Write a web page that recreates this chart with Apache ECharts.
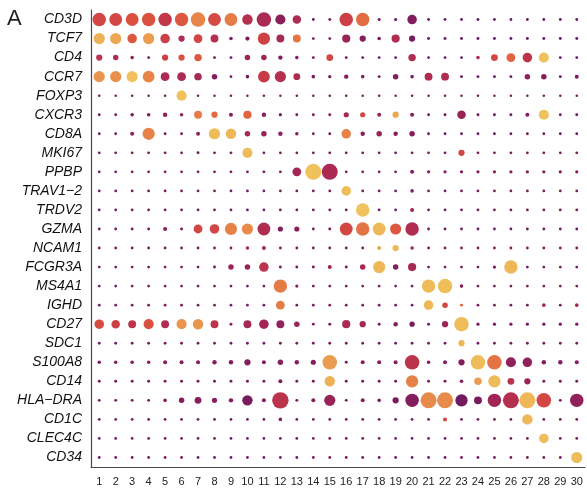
<!DOCTYPE html>
<html>
<head>
<meta charset="utf-8">
<script src="https://cdn.jsdelivr.net/npm/echarts@6/dist/echarts.min.js"></script>
<style>
  html, body { margin: 0; padding: 0; background: #fff; }
  #main { width: 587px; height: 495px; }
</style>
</head>
<body>
<div id="main"></div>
<script>
// marker genes, top to bottom
const genes = ['CD3D', 'TCF7', 'CD4', 'CCR7', 'FOXP3', 'CXCR3', 'CD8A', 'MKI67', 'PPBP', 'TRAV1\u22122',
  'TRDV2', 'GZMA', 'NCAM1', 'FCGR3A', 'MS4A1', 'IGHD', 'CD27', 'SDC1', 'S100A8', 'CD14',
  'HLA\u2212DRA', 'CD1C', 'CLEC4C', 'CD34']

const clusters = ['1', '2', '3', '4', '5', '6', '7', '8', '9', '10', '11', '12', '13', '14', '15',
  '16', '17', '18', '19', '20', '21', '22', '23', '24', '25', '26', '27', '28', '29', '30']

// percent of cells expressing (dot size)
const pct = [
  [73, 69, 69, 73, 73, 73, 80, 69, 69, 53, 80, 51, 40, 2, 2, 73, 73, 4, 4, 47, 2, 2, 2, 2, 2, 2, 2, 2, 2, 2],
  [58, 58, 47, 58, 47, 25, 42, 36, 7, 11, 65, 36, 36, 2, 2, 38, 25, 7, 38, 25, 3, 3, 3, 3, 3, 3, 3, 3, 3, 3],
  [25, 20, 7, 2, 25, 25, 33, 3, 3, 20, 20, 13, 7, 3, 29, 3, 2, 2, 2, 33, 2, 2, 2, 7, 29, 42, 47, 51, 2, 2],
  [58, 58, 58, 62, 42, 42, 33, 20, 2, 7, 62, 58, 29, 7, 5, 13, 7, 3, 20, 7, 36, 36, 3, 3, 3, 3, 20, 20, 3, 10],
  [0, 0, 0, 0, 0, 51, 0, 0, 0, 0, 0, 0, 0, 0, 0, 0, 0, 0, 0, 0, 0, 0, 0, 0, 0, 0, 0, 0, 0, 0],
  [2, 2, 7, 7, 13, 7, 36, 25, 10, 38, 13, 5, 3, 3, 3, 18, 18, 10, 25, 10, 2, 3, 40, 3, 3, 3, 10, 51, 2, 3],
  [2, 2, 10, 65, 2, 2, 10, 58, 53, 20, 20, 13, 7, 2, 2, 47, 13, 20, 13, 20, 2, 2, 2, 2, 2, 2, 2, 2, 2, 2],
  [2, 2, 2, 2, 2, 2, 3, 2, 2, 51, 2, 2, 2, 2, 2, 2, 2, 2, 2, 2, 2, 2, 25, 2, 2, 2, 2, 2, 2, 2],
  [2, 2, 2, 2, 2, 2, 2, 2, 2, 2, 3, 2, 42, 90, 90, 2, 2, 2, 2, 10, 5, 5, 5, 5, 5, 5, 5, 5, 5, 5],
  [2, 2, 2, 2, 2, 2, 2, 2, 2, 2, 2, 2, 2, 2, 2, 47, 2, 2, 2, 7, 2, 2, 2, 2, 2, 2, 2, 2, 2, 2],
  [2, 2, 2, 2, 2, 2, 2, 2, 2, 2, 2, 2, 2, 2, 2, 2, 73, 2, 2, 10, 2, 2, 2, 2, 2, 2, 2, 2, 2, 2],
  [2, 2, 2, 2, 10, 3, 42, 47, 65, 58, 69, 18, 18, 2, 3, 69, 73, 69, 58, 73, 2, 2, 2, 2, 2, 2, 2, 2, 2, 2],
  [2, 2, 2, 2, 2, 2, 2, 2, 2, 7, 10, 2, 2, 2, 2, 2, 2, 10, 25, 7, 2, 2, 2, 2, 2, 2, 2, 2, 2, 2],
  [2, 2, 2, 2, 2, 2, 2, 3, 20, 20, 47, 3, 3, 3, 10, 3, 20, 65, 20, 38, 2, 2, 2, 2, 5, 73, 2, 2, 2, 2],
  [2, 2, 2, 2, 2, 2, 2, 2, 2, 2, 2, 73, 5, 3, 2, 2, 2, 2, 2, 3, 73, 80, 7, 2, 2, 2, 2, 2, 2, 2],
  [2, 2, 2, 2, 2, 2, 2, 2, 2, 2, 2, 42, 2, 2, 2, 2, 2, 2, 2, 2, 47, 20, 3, 2, 2, 2, 2, 7, 2, 7],
  [47, 40, 36, 51, 36, 51, 53, 36, 3, 36, 47, 36, 20, 2, 3, 38, 25, 3, 13, 18, 3, 25, 80, 5, 5, 5, 5, 5, 5, 5],
  [2, 2, 2, 2, 2, 2, 2, 2, 2, 2, 2, 2, 2, 2, 2, 2, 2, 2, 2, 2, 2, 2, 25, 2, 2, 2, 2, 2, 2, 2],
  [7, 7, 7, 7, 10, 10, 10, 13, 13, 25, 10, 20, 13, 18, 80, 3, 10, 10, 10, 80, 7, 10, 25, 80, 80, 51, 47, 13, 13, 10],
  [3, 3, 3, 3, 3, 3, 3, 3, 3, 3, 3, 10, 3, 3, 53, 3, 3, 3, 3, 65, 3, 3, 7, 33, 65, 29, 25, 3, 3, 3],
  [3, 3, 3, 3, 7, 20, 29, 18, 13, 53, 10, 93, 3, 10, 58, 3, 10, 7, 25, 73, 90, 90, 65, 36, 73, 90, 90, 80, 3, 73],
  [2, 2, 2, 2, 2, 2, 2, 2, 2, 2, 2, 7, 2, 2, 2, 2, 2, 2, 2, 2, 2, 10, 2, 2, 2, 2, 53, 2, 2, 2],
  [2, 2, 2, 2, 2, 2, 2, 2, 2, 2, 2, 2, 2, 2, 2, 2, 2, 2, 2, 2, 2, 2, 2, 2, 2, 2, 2, 47, 2, 2],
  [2, 2, 2, 2, 2, 2, 2, 2, 2, 2, 2, 2, 2, 2, 2, 2, 2, 2, 2, 2, 2, 2, 2, 2, 2, 2, 2, 2, 2, 58]
]

// scaled average expression (dot colour), 0..1
const avg = [
  [.55, .55, .6, .6, .48, .62, .75, .57, .72, .42, .38, .22, .38, .12, .15, .52, .68, .12, .12, .18, .1, .1, .1, .1, .1, .1, .1, .1, .1, .1],
  [.88, .85, .62, .82, .52, .4, .55, .42, .2, .15, .53, .35, .7, .15, .15, .28, .2, .15, .4, .15, .12, .12, .12, .12, .12, .12, .12, .12, .12, .12],
  [.45, .4, .25, .1, .52, .6, .62, .15, .15, .3, .3, .2, .2, .15, .55, .15, .1, .1, .1, .4, .1, .1, .1, .4, .55, .65, .45, .95, .1, .1],
  [.8, .78, .95, .75, .38, .38, .35, .2, .15, .15, .5, .42, .4, .15, .15, .2, .15, .15, .2, .15, .4, .4, .12, .12, .12, .12, .25, .2, .12, .15],
  [.12, .12, .12, .12, .12, .95, .12, .12, .12, .12, .12, .12, .12, .12, .12, .12, .12, .12, .12, .12, .12, .12, .12, .12, .12, .12, .12, .12, .12, .12],
  [.15, .15, .15, .15, .25, .25, .72, .68, .2, .65, .2, .15, .15, .15, .15, .35, .55, .3, .85, .2, .12, .12, .28, .12, .12, .12, .2, .95, .12, .12],
  [.15, .15, .25, .74, .15, .15, .25, .92, .9, .35, .28, .25, .2, .15, .15, .74, .2, .3, .2, .2, .12, .12, .12, .12, .12, .12, .12, .12, .12, .12],
  [.15, .15, .15, .15, .15, .15, .15, .15, .15, .92, .15, .15, .15, .15, .15, .15, .15, .15, .15, .15, .15, .15, .55, .15, .15, .15, .15, .15, .15, .15],
  [.15, .15, .15, .15, .15, .15, .15, .15, .15, .15, .15, .15, .33, .95, .38, .15, .15, .15, .15, .2, .2, .2, .2, .2, .2, .2, .2, .2, .2, .2],
  [.15, .15, .15, .15, .15, .15, .15, .15, .15, .15, .15, .15, .15, .15, .15, .93, .15, .15, .15, .2, .15, .15, .15, .15, .15, .15, .15, .15, .15, .15],
  [.15, .15, .15, .15, .15, .15, .15, .15, .15, .15, .15, .15, .15, .15, .15, .15, .95, .15, .15, .3, .15, .15, .15, .15, .15, .15, .15, .15, .15, .15],
  [.15, .15, .15, .15, .2, .15, .55, .55, .74, .77, .4, .2, .22, .15, .15, .55, .7, .9, .62, .4, .12, .12, .12, .12, .12, .12, .12, .12, .12, .12],
  [.15, .15, .15, .15, .15, .15, .15, .15, .15, .35, .35, .15, .15, .15, .15, .15, .15, .85, .9, .3, .15, .15, .15, .15, .15, .15, .15, .15, .15, .15],
  [.15, .15, .15, .15, .15, .15, .15, .15, .3, .3, .45, .15, .15, .15, .3, .15, .35, .9, .2, .35, .12, .12, .12, .12, .15, .9, .12, .12, .12, .12],
  [.15, .15, .15, .15, .15, .15, .15, .15, .15, .15, .15, .72, .2, .15, .15, .15, .15, .15, .15, .15, .92, .93, .2, .15, .15, .15, .15, .15, .15, .15],
  [.15, .15, .15, .15, .15, .15, .15, .15, .15, .15, .15, .72, .15, .15, .15, .15, .15, .15, .15, .15, .9, .55, .65, .15, .15, .15, .15, .3, .15, .3],
  [.58, .52, .45, .6, .4, .8, .8, .45, .2, .35, .33, .25, .3, .15, .15, .38, .35, .15, .2, .15, .12, .3, .92, .15, .15, .15, .15, .15, .15, .15],
  [.15, .15, .15, .15, .15, .15, .15, .15, .15, .15, .15, .15, .15, .15, .15, .15, .15, .15, .15, .15, .15, .15, .9, .15, .15, .15, .15, .15, .15, .15],
  [.2, .2, .18, .2, .2, .2, .2, .2, .2, .2, .2, .22, .2, .2, .82, .15, .2, .2, .2, .45, .18, .2, .2, .92, .7, .25, .25, .2, .2, .2],
  [.15, .15, .15, .15, .15, .15, .15, .15, .15, .15, .15, .2, .15, .15, .88, .15, .15, .15, .15, .74, .15, .15, .2, .82, .92, .45, .3, .15, .15, .15],
  [.15, .15, .15, .15, .18, .2, .2, .2, .2, .15, .2, .45, .15, .2, .28, .15, .2, .15, .15, .2, .77, .77, .12, .15, .32, .42, .9, .55, .15, .25],
  [.15, .15, .15, .15, .15, .15, .15, .15, .15, .15, .15, .2, .15, .15, .15, .15, .15, .15, .15, .15, .15, .55, .15, .15, .15, .15, .9, .15, .15, .15],
  [.15, .15, .15, .15, .15, .15, .15, .15, .15, .15, .15, .15, .15, .15, .15, .15, .15, .15, .15, .15, .15, .15, .15, .15, .15, .15, .15, .92, .15, .15],
  [.15, .15, .15, .15, .15, .15, .15, .15, .15, .15, .15, .15, .15, .15, .15, .15, .15, .15, .15, .15, .15, .15, .15, .15, .15, .15, .15, .15, .15, .92]
]

const chart = echarts.init(document.getElementById('main'), null, { renderer: 'canvas' })

const dots = []
genes.forEach(function (g, i) {
  clusters.forEach(function (c, j) {
    dots.push([j, i, pct[i][j], avg[i][j]])
  })
})

const axisGrey = '#4a4a4a'
const font = '"Liberation Sans", Arial, sans-serif'

const option = {
  animation: false,
  grid: { left: 91, right: 2, top: 10, bottom: 28 },
  xAxis: {
    type: 'category',
    data: clusters,
    boundaryGap: true,
    axisLine: { lineStyle: { color: axisGrey, width: 1.2 } },
    axisTick: { alignWithLabel: true, length: 4, lineStyle: { color: axisGrey } },
    axisLabel: { interval: 0, color: '#222', fontSize: 11, fontFamily: font, margin: 9 },
    splitLine: { show: false }
  },
  yAxis: {
    type: 'category',
    data: genes,
    inverse: true,
    axisLine: { lineStyle: { color: axisGrey, width: 1.2 } },
    axisTick: { alignWithLabel: true, length: 4, lineStyle: { color: axisGrey } },
    axisLabel: { interval: 0, color: '#111', fontSize: 14, fontStyle: 'italic', fontFamily: font, margin: 9 },
    splitLine: { show: false }
  },
  visualMap: [
    {
      type: 'continuous', show: false, dimension: 2, min: 0, max: 100,
      inRange: { symbolSize: [2.5, 17.5] }
    },
    {
      type: 'continuous', show: false, dimension: 3, min: 0, max: 1,
      inRange: {
        color: ['#5a1660', '#6b1a5f', '#851e5d', '#9c2456', '#b02d51', '#c83a47',
          '#db5140', '#e47444', '#ea954d', '#eeb858', '#f2cc62']
      }
    }
  ],
  graphic: [{
    type: 'text', left: 7, top: 8,
    style: { text: 'A', fontSize: 22, fontFamily: font, fill: '#222' }
  }],
  series: [{
    type: 'scatter',
    data: dots,
    symbol: 'circle',
    itemStyle: { opacity: 1 },
    emphasis: { disabled: true }
  }]
}

chart.setOption(option)
</script>
</body>
</html>
